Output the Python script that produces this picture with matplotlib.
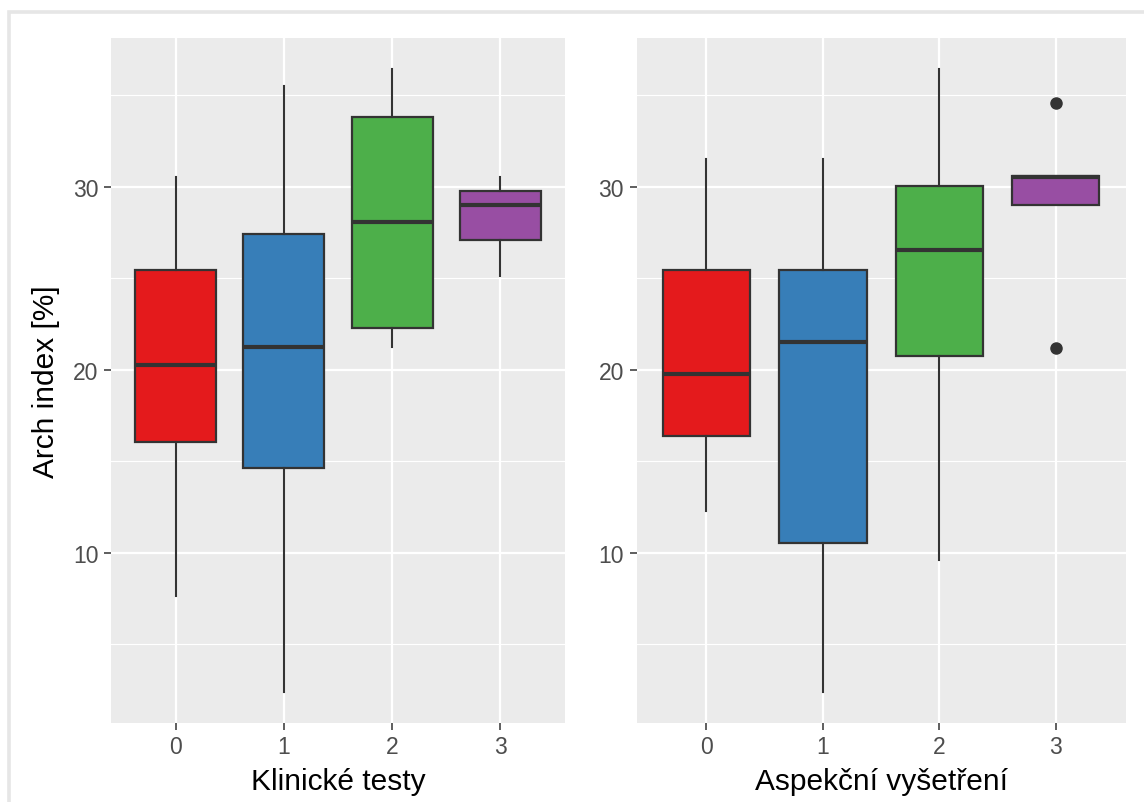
import matplotlib.pyplot as plt
from matplotlib.patches import Rectangle

plt.rcParams["font.family"] = ["Liberation Sans", "DejaVu Sans"]

# box statistics per group, read as q1 / median / q3 / whisker ends
categories = ["0", "1", "2", "3"]
fill_colors = ["#E41A1C", "#377EB8", "#4DAF4A", "#984EA3"]

klin_q1 = [16.03, 14.66, 22.28, 27.08]
klin_med = [20.24, 21.23, 28.10, 29.03]
klin_q3 = [25.44, 27.43, 33.81, 29.80]
klin_lo = [7.63, 2.40, 21.23, 25.11]
klin_hi = [30.55, 35.51, 36.42, 30.53]
klin_out = [[], [], [], []]

asp_q1 = [16.39, 10.51, 20.73, 29.03]
asp_med = [19.78, 21.51, 26.57, 30.55]
asp_q3 = [25.44, 25.47, 30.04, 30.62]
asp_lo = [12.28, 2.39, 9.60, 29.03]
asp_hi = [31.50, 31.50, 36.42, 30.62]
asp_out = [[], [], [], [34.56, 21.19]]

y_title = "Arch index [%]"
x_titles = ["Klinické testy", "Aspekční vyšetření"]

DARK = "#333333"
PANEL = "#EBEBEB"


def make_stats(q1, med, q3, lo, hi, out):
    return [
        {"q1": a, "med": m, "q3": b, "whislo": l, "whishi": h, "fliers": f}
        for a, m, b, l, h, f in zip(q1, med, q3, lo, hi, out)
    ]


def draw_panel(ax, stats, xlabel, ylabel=None):
    ax.set_facecolor(PANEL)
    for s in ax.spines.values():
        s.set_visible(False)
    ax.set_axisbelow(True)

    pos = list(range(len(categories)))
    parts = ax.bxp(
        stats,
        positions=pos,
        widths=0.75,
        patch_artist=True,
        showcaps=False,
        boxprops=dict(edgecolor=DARK, linewidth=1.6),
        whiskerprops=dict(color=DARK, linewidth=1.5),
        medianprops=dict(color=DARK, linewidth=3.0, solid_capstyle="butt"),
        flierprops=dict(marker="o", markerfacecolor=DARK, markeredgecolor=DARK,
                        markersize=8),
    )
    for box, c in zip(parts["boxes"], fill_colors):
        box.set_facecolor(c)

    lows = [s["whislo"] for s in stats] + [v for s in stats for v in s["fliers"]]
    highs = [s["whishi"] for s in stats] + [v for s in stats for v in s["fliers"]]
    lo, hi = min(lows), max(highs)
    pad = (hi - lo) * 0.05
    ax.set_ylim(lo - pad, hi + pad)
    ax.set_xlim(-0.6, len(categories) - 0.4)

    ax.set_xticks(pos)
    ax.set_xticklabels(categories)
    ax.set_yticks([10, 20, 30])
    ax.set_yticks([5, 15, 25, 35], minor=True)
    ax.grid(True, which="major", color="white", linewidth=1.6)
    ax.grid(True, which="minor", axis="y", color="white", linewidth=0.8)
    ax.tick_params(axis="both", which="major", length=5, width=1.1, color=DARK,
                   labelsize=16.5, labelcolor="#4D4D4D", pad=4)
    ax.tick_params(axis="y", which="minor", length=0)
    ax.set_xlabel(xlabel, fontsize=21.5, color="black", labelpad=6)
    if ylabel:
        ax.set_ylabel(ylabel, fontsize=21.5, color="black", labelpad=9)


fig = plt.figure(figsize=(11.44, 8.03), dpi=100)

# light frame around the drawing area
fig.patches.append(Rectangle((9 / 1144, -0.05), 1.2, 1.05 - 13 / 803,
                             transform=fig.transFigure, fill=False,
                             edgecolor="#E6E6E6", linewidth=2.6))

ax1 = fig.add_axes([111 / 1144, 79 / 803, 454 / 1144, 684.7 / 803])
ax2 = fig.add_axes([636.5 / 1144, 79 / 803, 489.2 / 1144, 684.7 / 803])

draw_panel(ax1, make_stats(klin_q1, klin_med, klin_q3, klin_lo, klin_hi, klin_out),
           x_titles[0], y_title)
draw_panel(ax2, make_stats(asp_q1, asp_med, asp_q3, asp_lo, asp_hi, asp_out),
           x_titles[1])

fig.savefig("out.png", dpi=100)
